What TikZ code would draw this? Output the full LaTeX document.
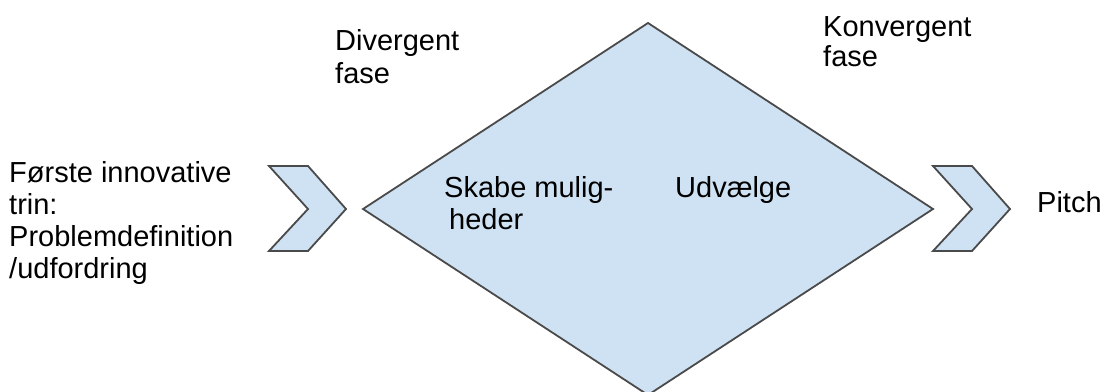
\documentclass[tikz,border=0pt]{standalone}
\usepackage{fontspec}
\setmainfont{Liberation Sans}
\definecolor{shapefill}{HTML}{CFE2F3}
\definecolor{shapeline}{HTML}{4A4A4A}
% left-aligned block of lines whose baseline is that of its first line
\newcommand\stackedtext[1]{\begin{tabular}[t]{@{}l@{}}#1\end{tabular}}
\begin{document}
\begin{tikzpicture}[x=1pt,y=-1pt,
  shapebox/.style={fill=shapefill, draw=shapeline, line width=1.8pt, line join=miter},
  lbl/.style={anchor=base west, inner sep=0pt, font=\fontsize{29}{32}\selectfont}]
\useasboundingbox (0,0) rectangle (1100,391);

% process shapes
\draw[shapebox] (269,166) -- (308,166) -- (346,209) -- (308,251) -- (269,251) -- (308,209) -- cycle;
\draw[shapebox] (363,209) -- (648,23) -- (933,209) -- (648,395) -- cycle;
\draw[shapebox] (933,166) -- (972,166) -- (1010,209) -- (972,251) -- (933,251) -- (972,209) -- cycle;

% labels
\node[lbl] (start) at (9,182) {\stackedtext{Første innovative\\trin:\\Problemdefinition\\/udfordring}};
\node[lbl, font=\fontsize{29}{33}\selectfont] (div) at (335,50) {\stackedtext{Divergent\\fase}};
\node[lbl, font=\fontsize{29}{30}\selectfont] (konv) at (823,36) {\stackedtext{Konvergent\\fase}};
\node[lbl] (skabe) at (444,197) {\stackedtext{Skabe mulig-\\\hspace{5pt}heder}};
\node[lbl] (udv) at (675,197) {Udvælge};
\node[lbl] (pitch) at (1037,212) {Pitch};
\end{tikzpicture}
\end{document}
